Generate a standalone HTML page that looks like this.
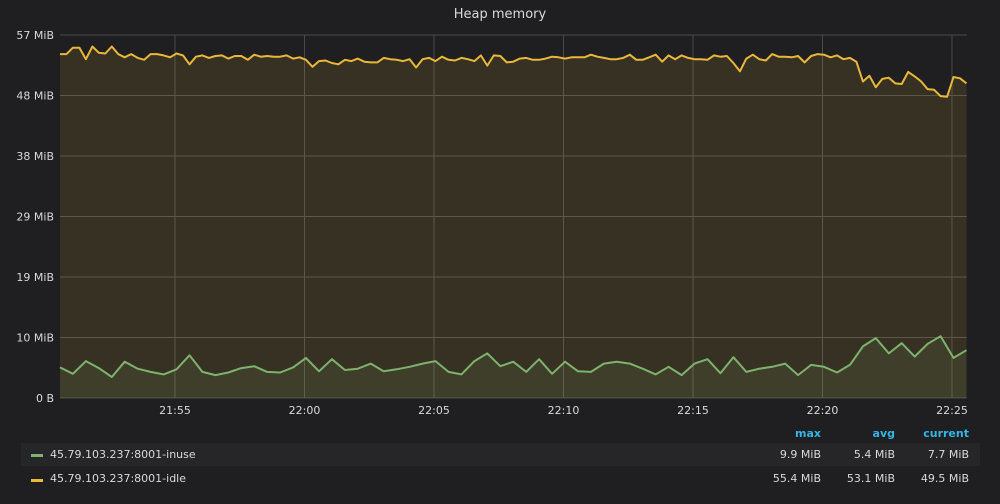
<!DOCTYPE html>
<html><head><meta charset="utf-8"><style>
body{margin:0;background:#1f1f21;width:1000px;height:500px;overflow:hidden;font-family:"DejaVu Sans","Liberation Sans",sans-serif;}
svg text{font-family:"DejaVu Sans","Liberation Sans",sans-serif;}
</style></head><body>
<svg id="chart" width="1000" height="500">
<text x="500" y="18" fill="#d8d9da" font-size="13" text-anchor="middle">Heap memory</text>
<g id="grid"></g><g id="series"></g><g id="axes"></g>
<rect x="21" y="443" width="959" height="23" fill="#262628"/>
<g font-size="11">
<text x="821" y="437" fill="#33b5e5" font-weight="bold" text-anchor="end">max</text>
<text x="895" y="437" fill="#33b5e5" font-weight="bold" text-anchor="end">avg</text>
<text x="969" y="437" fill="#33b5e5" font-weight="bold" text-anchor="end">current</text>
<g>
<rect x="31" y="454" width="12" height="3" fill="#7eb26d"/>
<text x="50" y="458" fill="#d8d9da">45.79.103.237:8001-inuse</text>
<text x="821" y="458" fill="#d8d9da" text-anchor="end">9.9 MiB</text>
<text x="895" y="458" fill="#d8d9da" text-anchor="end">5.4 MiB</text>
<text x="969" y="458" fill="#d8d9da" text-anchor="end">7.7 MiB</text></g>
<g>
<rect x="31" y="479" width="12" height="3" fill="#eab839"/>
<text x="50" y="482" fill="#d8d9da">45.79.103.237:8001-idle</text>
<text x="821" y="482" fill="#d8d9da" text-anchor="end">55.4 MiB</text>
<text x="895" y="482" fill="#d8d9da" text-anchor="end">53.1 MiB</text>
<text x="969" y="482" fill="#d8d9da" text-anchor="end">49.5 MiB</text></g>
</g>
</svg>
<script>
const inuse=[4.8,3.8,5.8,4.7,3.3,5.7,4.6,4.1,3.7,4.5,6.7,4.1,3.6,4.0,4.7,5.0,4.1,4.0,4.8,6.3,4.2,6.1,4.4,4.6,5.4,4.2,4.5,4.9,5.4,5.8,4.1,3.7,5.8,7.0,5.0,5.7,4.1,6.1,3.8,5.7,4.2,4.1,5.4,5.7,5.4,4.6,3.7,4.9,3.6,5.4,6.1,3.9,6.4,4.1,4.6,4.9,5.4,3.6,5.2,4.9,4.0,5.2,8.1,9.4,7.0,8.6,6.5,8.5,9.7,6.3,7.5];
const idle=[54.0,54.0,55.0,55.0,53.2,55.2,54.2,54.1,55.2,54.0,53.5,54.0,53.4,53.1,54.0,54.0,53.8,53.5,54.1,53.8,52.4,53.6,53.8,53.4,53.7,53.8,53.3,53.7,53.7,53.1,53.9,53.6,53.7,53.6,53.6,53.8,53.3,53.5,53.1,52.0,52.9,53.0,52.6,52.4,53.1,52.9,53.3,52.8,52.7,52.7,53.4,53.2,53.1,52.9,53.2,51.9,53.2,53.4,52.9,53.6,53.1,53.0,53.4,53.2,52.9,53.8,52.2,53.8,53.7,52.7,52.8,53.3,
53.4,53.1,53.1,53.3,53.6,53.5,53.3,53.5,53.5,53.5,53.9,53.6,53.4,53.2,53.2,53.4,53.9,53.1,53.1,53.5,53.9,52.8,53.8,53.2,53.8,53.4,53.2,53.2,53.1,53.8,53.6,53.7,52.6,51.3,53.3,53.9,53.2,53.0,54.0,53.6,53.6,53.5,53.7,52.7,53.7,54.0,53.9,53.5,53.8,53.2,53.4,52.8,49.7,50.6,48.8,50.1,50.3,49.4,49.3,51.2,50.5,49.7,48.5,48.4,47.4,47.3,50.4,50.2,49.4];
const yTicks=[0,9.5,19,28.5,38,47.5,57];
const yLabels=["0 B","10 MiB","19 MiB","29 MiB","38 MiB","48 MiB","57 MiB"];
const xTicks=[4.44,9.44,14.44,19.44,24.44,29.44,34.44]; // minutes since first sample
const xLabels=["21:55","22:00","22:05","22:10","22:15","22:20","22:25"];
const L=60,R=967,T=35,B=398,SPAN=35.02;
const X=m=>L+m/SPAN*(R-L), Y=v=>B-v/57*(B-T);
const NS="http://www.w3.org/2000/svg";
function mk(p,t,a){const e=document.createElementNS(NS,t);for(const k in a)e.setAttribute(k,a[k]);p.appendChild(e);return e;}
const grid=document.getElementById('grid'),ax=document.getElementById('axes'),ser=document.getElementById('series');
yTicks.forEach((v,i)=>{const l=mk(grid,'line',{x1:L,x2:R,y1:Y(v),y2:Y(v),stroke:'#4a4a4a','stroke-width':1});


const t=mk(ax,'text',{x:54,y:Y(v)+4,fill:'#d8d9da','font-size':11,'text-anchor':'end'});t.textContent=yLabels[i];

});
xTicks.forEach((m,i)=>{const l=mk(grid,'line',{x1:X(m),x2:X(m),y1:T,y2:B,stroke:'#4a4a4a','stroke-width':1});


const t=mk(ax,'text',{x:X(m),y:414,fill:'#d8d9da','font-size':11,'text-anchor':'middle'});t.textContent=xLabels[i];

});
function draw(data,step,color,fill,name){
 const pts=data.map((v,i)=>[X(i*step),Y(v)]);
 const d=pts.map((p,i)=>(i?'L':'M')+p[0].toFixed(1)+' '+p[1].toFixed(1)).join(' ');
 const a=mk(ser,'path',{d:d+` L${pts[pts.length-1][0]} ${B} L${pts[0][0]} ${B} Z`,fill:fill});
 
 
 const l=mk(ser,'path',{d:d,fill:'none',stroke:color,'stroke-width':2,'stroke-linejoin':'round'});
 
 
}
draw(idle,0.25,'#eab839','rgba(234,184,57,0.12)','idle-series');
draw(inuse,0.5,'#7eb26d','rgba(126,178,109,0.1)','inuse-series');
</script>
</body></html>
